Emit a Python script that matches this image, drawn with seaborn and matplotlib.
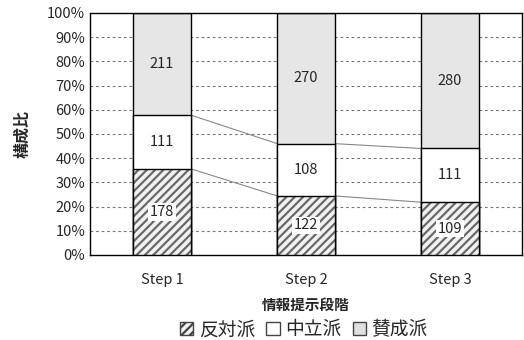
import numpy as np
import pandas as pd
import matplotlib
matplotlib.use('Agg')
import matplotlib.pyplot as plt
from matplotlib.patches import Patch
import seaborn as sns

# datos
steps = ['Step 1', 'Step 2', 'Step 3']
hantai = [178, 122, 109]   # 反対派
churitsu = [111, 108, 111]  # 中立派
sansei = [211, 270, 280]    # 賛成派
series_names = ['反対派', '中立派', '賛成派']

sns.set_style('white')
plt.rcParams['font.family'] = ['Noto Sans CJK JP', 'DejaVu Sans']
plt.rcParams['hatch.linewidth'] = 1.6

tot = np.array(hantai) + np.array(churitsu) + np.array(sansei)
p1 = np.array(hantai) / tot * 100
p2 = np.array(churitsu) / tot * 100
p3 = np.array(sansei) / tot * 100
df = pd.DataFrame({'step': steps, 'c1': p1, 'c2': p1 + p2, 'c3': p1 + p2 + p3})

fig = plt.figure(figsize=(5.24, 3.4), dpi=100)
ax = fig.add_axes([0.172, 0.25, 0.824, 0.712])

# grid
for g in range(10, 100, 10):
    ax.axhline(g, color='#777777', lw=0.8, ls=(0, (2.5, 2.5)), zorder=0)

bw = 0.4
# 賛成派 (total), 中立派, 反対派 superpuestos
sns.barplot(data=df, x='step', y='c3', ax=ax, color='#e6e6e6', edgecolor='black',
            linewidth=1.0, width=bw, saturation=1, zorder=2)
sns.barplot(data=df, x='step', y='c2', ax=ax, color='white', edgecolor='black',
            linewidth=1.0, width=bw, saturation=1, zorder=3)
n0 = len(ax.patches)
sns.barplot(data=df, x='step', y='c1', ax=ax, color='#f2f2f2', edgecolor='#6a6a6a',
            linewidth=0, width=bw, saturation=1, zorder=4)
for p in ax.patches[n0:]:
    p.set_hatch('////')
sns.barplot(data=df, x='step', y='c1', ax=ax, fill=False, edgecolor='black',
            linewidth=1.0, width=bw, zorder=5)

# lineas entre barras
for i in range(len(steps) - 1):
    ax.plot([i + bw / 2, i + 1 - bw / 2], [df.c1[i], df.c1[i + 1]], color='#888888', lw=0.8, zorder=1)
    ax.plot([i + bw / 2, i + 1 - bw / 2], [df.c2[i], df.c2[i + 1]], color='#888888', lw=0.8, zorder=1)

# etiquetas
for i in range(len(steps)):
    ax.text(i, p1[i] / 2, str(hantai[i]), ha='center', va='center', fontsize=10.5, zorder=6,
            bbox=dict(facecolor='white', edgecolor='none', pad=1.2))
    ax.text(i, p1[i] + p2[i] / 2, str(churitsu[i]), ha='center', va='center', fontsize=10.5, zorder=6)
    ax.text(i, p1[i] + p2[i] + p3[i] / 2, str(sansei[i]), ha='center', va='center', fontsize=10.5, zorder=6)

ax.set_xlim(-0.5, 2.5)
ax.set_ylim(0, 100)
ax.set_yticks(range(0, 101, 10))
ax.set_yticklabels([f'{v}%' for v in range(0, 101, 10)])
ax.tick_params(axis='both', length=0, labelsize=10.5)
ax.tick_params(axis='x', pad=13)
for s in ax.spines.values():
    s.set_color('black')
    s.set_linewidth(1.0)
ax.set_xlabel('情報提示段階', fontsize=10.5, labelpad=7, fontweight='bold')
ax.set_ylabel('構成比', fontsize=11.5, labelpad=12, fontweight='bold')

handles = [Patch(facecolor='#f2f2f2', edgecolor='#444444', hatch='////', label=series_names[0]),
           Patch(facecolor='white', edgecolor='#444444', label=series_names[1]),
           Patch(facecolor='#e0e0e0', edgecolor='#444444', label=series_names[2])]
fig.legend(handles=handles, loc='center', bbox_to_anchor=(0.58, 0.03), ncol=3, frameon=False,
           fontsize=13.5, handlelength=0.7, handleheight=0.7, handletextpad=0.3, columnspacing=0.6)

plt.savefig('out.png', dpi=100)
